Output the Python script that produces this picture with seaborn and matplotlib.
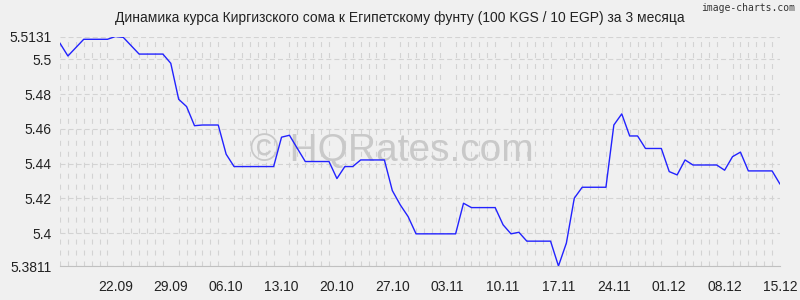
import matplotlib
matplotlib.use("Agg")
import matplotlib.pyplot as plt
import matplotlib.dates as mdates
import matplotlib.ticker as mticker
import numpy as np
import pandas as pd
import seaborn as sns

# ---- data ----
start_date = "2023-09-15"
end_date = "2023-12-15"
rates = [
    5.5092, 5.5019, 5.5067, 5.5115, 5.5115, 5.5115, 5.5115, 5.5131, 5.5126, 5.5078,
    5.5030, 5.5030, 5.5030, 5.5030, 5.4977, 5.4770, 5.4728, 5.4618, 5.4622, 5.4622,
    5.4622, 5.4454, 5.4383, 5.4383, 5.4383, 5.4383, 5.4383, 5.4383, 5.4552, 5.4563,
    5.4487, 5.4412, 5.4412, 5.4412, 5.4412, 5.4314, 5.4383, 5.4383, 5.4421, 5.4421,
    5.4421, 5.4421, 5.4245, 5.4163, 5.4095, 5.3996, 5.3996, 5.3996, 5.3996, 5.3996,
    5.3996, 5.4172, 5.4147, 5.4147, 5.4147, 5.4147, 5.4048, 5.3996, 5.4005, 5.3954,
    5.3954, 5.3954, 5.3954, 5.3811, 5.3943, 5.4201, 5.4264, 5.4264, 5.4264, 5.4264,
    5.4622, 5.4686, 5.4559, 5.4559, 5.4487, 5.4487, 5.4487, 5.4354, 5.4335, 5.4421,
    5.4392, 5.4392, 5.4392, 5.4392, 5.4362, 5.4440, 5.4466, 5.4358, 5.4358, 5.4358,
    5.4358, 5.4282,
]
xtick_labels = ["22.09", "29.09", "06.10", "13.10", "20.10", "27.10", "03.11",
                "10.11", "17.11", "24.11", "01.12", "08.12", "15.12"]
ytick_values = [5.3811, 5.4, 5.42, 5.44, 5.46, 5.48, 5.5, 5.5131]
ytick_labels = ["5.3811", "5.4", "5.42", "5.44", "5.46", "5.48", "5.5", "5.5131"]
title = "Динамика курса Киргизского сома к Египетскому фунту (100 KGS / 10 EGP) за 3 месяца"
watermark = "© HQRates.com"
credit = "image-charts.com"

# ---- style ----
bg = "#f0f0f0"
grid_c = "#d3d3d3"
sns.set_style("white")
plt.rcParams["font.family"] = ["Liberation Sans", "DejaVu Sans"]
plt.rcParams["lines.scale_dashes"] = False

dates = pd.date_range(start_date, end_date, freq="D")
df = pd.DataFrame({"date": dates, "rate": rates})

fig = plt.figure(figsize=(8, 3), dpi=100, facecolor=bg)
ax = fig.add_axes([0.075, 0.1133, 0.9, 0.7650])
ax.set_facecolor(bg)

ax.text(0.461, 0.5, watermark, transform=ax.transAxes, ha="center", va="center",
        fontsize=28, color="#c9c9c9", zorder=1)

sns.lineplot(data=df, x="date", y="rate", ax=ax, color="#2222ff", linewidth=1.0, zorder=3)

ax.set_xlim(dates[0], dates[-1])
ax.set_ylim(ytick_values[0], ytick_values[-1])

year = dates[0].year
tick_dates = [pd.Timestamp(f"{year}-{lbl[3:5]}-{lbl[0:2]}") for lbl in xtick_labels]
ax.xaxis.set_major_locator(mticker.FixedLocator(mdates.date2num(tick_dates)))
ax.xaxis.set_major_formatter(mticker.FixedFormatter(xtick_labels))
ax.xaxis.set_minor_locator(mdates.DayLocator())
ax.yaxis.set_major_locator(mticker.FixedLocator(ytick_values))
ax.yaxis.set_major_formatter(mticker.FixedFormatter(ytick_labels))

ax.tick_params(axis="x", which="major", length=5, color=grid_c, pad=5,
               labelsize=10, labelcolor="#222222")
ax.tick_params(axis="x", which="minor", length=5, color=grid_c, width=0.8)
ax.tick_params(axis="y", which="major", length=4, color="#999999", pad=2,
               labelsize=10, labelcolor="#222222")

ax.grid(True, axis="x", which="minor", color=grid_c, linewidth=0.8,
        linestyle=(0, (3.6, 4.3)), zorder=0)
ax.grid(True, axis="y", which="major", color=grid_c, linewidth=0.8,
        linestyle=(0, (3.6, 2.2)), zorder=0)
ax.grid(False, axis="x", which="major")

for s in ["top", "right", "left"]:
    ax.spines[s].set_visible(False)
ax.spines["bottom"].set_color("#c0c0c0")
ax.spines["bottom"].set_linewidth(0.8)

ax.set_xlabel("")
ax.set_ylabel("")

fig.text(0.5, 1 - 18 / 300, title, ha="center", va="center", fontsize=10, color="#222222")
fig.text(0.994, 1 - 8 / 300, credit, ha="right", va="center", fontsize=7,
         color="#333333", family=["DejaVu Sans Mono"])

fig.savefig("out.png", dpi=100, facecolor=bg)
